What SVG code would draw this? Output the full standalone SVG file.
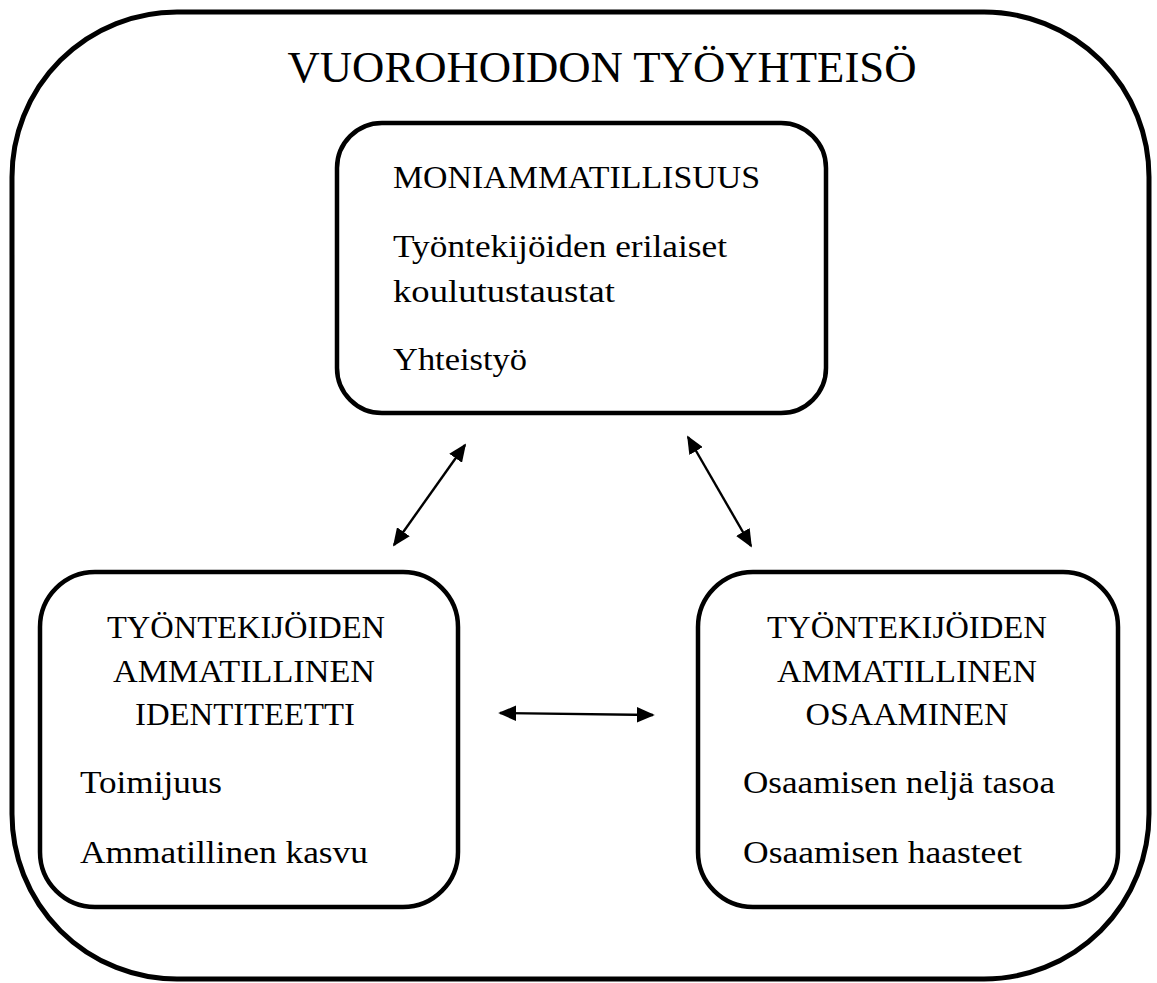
<svg xmlns="http://www.w3.org/2000/svg" width="1157" height="983" viewBox="0 0 1157 983">
<style>
.box{fill:#fff;stroke:#000;stroke-width:4.5}
.outer{fill:#fff;stroke:#000;stroke-width:5}
text{font-family:"Liberation Serif","DejaVu Serif",serif;fill:#000}
.t{font-size:45px}
.b{font-size:32px}
.c{text-anchor:middle}
.conn{stroke:#000;stroke-width:2.4;fill:none;marker-start:url(#ah);marker-end:url(#ah)}
</style>
<defs>
<marker id="ah" viewBox="0 0 10 10" refX="9" refY="5" markerWidth="7.5" markerHeight="6.5" orient="auto-start-reverse" markerUnits="strokeWidth" preserveAspectRatio="none">
<path d="M0,0 L10,5 L0,10 z" fill="#000"/>
</marker>
</defs>
<g id="outer">
<rect class="outer" x="12" y="12" width="1137" height="967" rx="165" ry="165"/>
<text class="t" x="602" y="82" text-anchor="middle" textLength="629" lengthAdjust="spacingAndGlyphs">VUOROHOIDON TYÖYHTEISÖ</text>
</g>
<g id="moniammatillisuus">
<rect class="box" x="337" y="123" width="489" height="290" rx="45" ry="45"/>
<text class="b" x="393" y="188" textLength="367" lengthAdjust="spacingAndGlyphs">MONIAMMATILLISUUS</text>
<text class="b" x="393" y="257" textLength="334" lengthAdjust="spacingAndGlyphs">Työntekijöiden erilaiset</text>
<text class="b" x="393" y="302" textLength="222" lengthAdjust="spacingAndGlyphs">koulutustaustat</text>
<text class="b" x="393" y="370" textLength="134" lengthAdjust="spacingAndGlyphs">Yhteistyö</text>
</g>
<g id="identiteetti">
<rect class="box" x="40" y="572" width="418" height="335" rx="55" ry="55"/>
<text class="b c" x="246" y="638" textLength="278" lengthAdjust="spacingAndGlyphs">TYÖNTEKIJÖIDEN</text>
<text class="b c" x="244" y="682" textLength="262" lengthAdjust="spacingAndGlyphs">AMMATILLINEN</text>
<text class="b c" x="245" y="725" textLength="220" lengthAdjust="spacingAndGlyphs">IDENTITEETTI</text>
<text class="b" x="80" y="793" textLength="142" lengthAdjust="spacingAndGlyphs">Toimijuus</text>
<text class="b" x="80" y="863" textLength="288" lengthAdjust="spacingAndGlyphs">Ammatillinen kasvu</text>
</g>
<g id="osaaminen">
<rect class="box" x="698" y="572" width="420" height="335" rx="55" ry="55"/>
<text class="b c" x="907" y="638" textLength="280" lengthAdjust="spacingAndGlyphs">TYÖNTEKIJÖIDEN</text>
<text class="b c" x="907" y="682" textLength="260" lengthAdjust="spacingAndGlyphs">AMMATILLINEN</text>
<text class="b c" x="907" y="725" textLength="203" lengthAdjust="spacingAndGlyphs">OSAAMINEN</text>
<text class="b" x="743" y="793" textLength="312" lengthAdjust="spacingAndGlyphs">Osaamisen neljä tasoa</text>
<text class="b" x="743" y="863" textLength="279" lengthAdjust="spacingAndGlyphs">Osaamisen haasteet</text>
</g>
<g id="connectors">
<line class="conn" x1="394" y1="545" x2="465" y2="445"/>
<line class="conn" x1="688" y1="437" x2="751" y2="546"/>
<line class="conn" x1="500" y1="713" x2="653" y2="715"/>
</g>
</svg>
